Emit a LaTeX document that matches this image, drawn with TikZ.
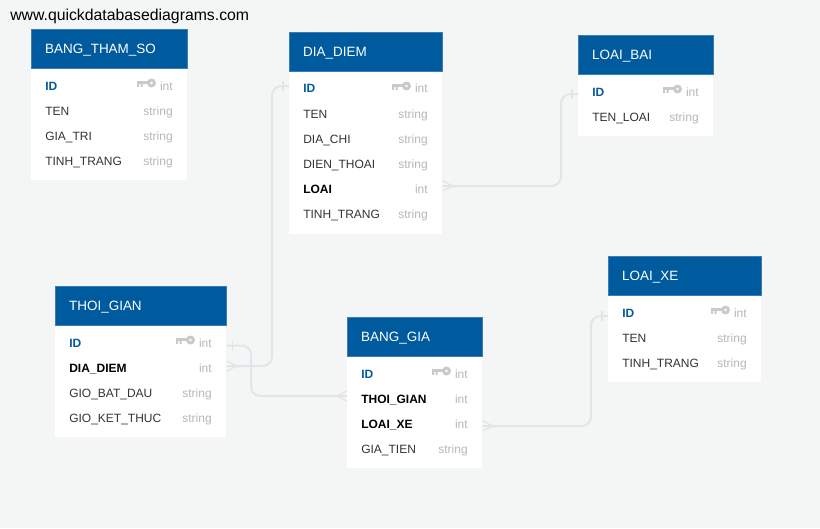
\documentclass[tikz,border=0pt]{standalone}
\usepackage{fontspec}
\setmainfont{Liberation Sans}
\usetikzlibrary{calc}
\definecolor{pagebg}  {RGB}{244, 246, 246}
\definecolor{headclr} {RGB}{0,   90, 158}
\definecolor{headedge}{RGB}{60, 125, 180}
\definecolor{nameclr} {RGB}{51,  51,  51}
\definecolor{typeclr} {RGB}{180, 183, 188}
\definecolor{keyclr}  {RGB}{200, 202, 205}
\definecolor{lineclr} {RGB}{226, 228, 234}
\def\pxu{0.75pt}
\tikzset{
  tblbody/.style={fill=white, inner sep=0pt, anchor=north west, minimum width=#1*\pxu},
  tblhead/.style={fill=headclr, draw=headedge, line width=0.2pt, text=white, anchor=south west,
    font=\fontsize{10.1pt}{12pt}\selectfont, inner xsep=14*\pxu, inner ysep=0pt, align=left,
    text height=7.5pt, text depth=0pt,
    text width=(#1-28)*\pxu, minimum height=39*\pxu},
  colname/.style={anchor=base west, inner sep=0pt, text=nameclr, text height=6.75pt, text depth=2.25pt,
    font=\fontsize{9pt}{11pt}\selectfont},
  colfk/.style={colname, text=black, font=\fontsize{9pt}{11pt}\selectfont\bfseries},
  colpk/.style={colname, text=headclr, font=\fontsize{9pt}{11pt}\selectfont\bfseries},
  coltype/.style={anchor=base east, inner sep=0pt, text=typeclr, font=\fontsize{9pt}{11pt}\selectfont},
  relline/.style={draw=lineclr, line width=1.5pt, rounded corners=7pt},
  relmark/.style={draw=lineclr, line width=1pt},
  pics/keyicon/.style={code={
    \fill[keyclr, even odd rule] (-21.5,-7) circle (4.5) (-21.5,-7) circle (1.7);
    \fill[keyclr] (-36,-8.7) rectangle (-25,-5.6);
    \fill[keyclr] (-36,-7) rectangle (-34,-3.2) (-32.5,-7) rectangle (-30.5,-3.2);
  }},
  pics/crowfoot/.style={code={\draw[relmark] (0,-5) -- (#1,0) -- (0,5);}},
  pics/bartick/.style={code={\draw[relmark] (#1,-5) -- (#1,5);}},
}
\begin{document}
\begin{tikzpicture}[x=0.75pt, y=-0.75pt]
  \fill[pagebg] (0,0) rectangle (820,528);
  \node[anchor=base west, inner sep=0pt, font=\fontsize{11.85pt}{14pt}\selectfont] (siteurl) at (10,21) {www.quickdatabasediagrams.com};

  % BANG_THAM_SO
  \node[tblbody=156, minimum height=112*\pxu] (bangthamsobody) at (31,68) {};
  \node[tblhead=156] (bangthamsohead) at (bangthamsobody.north west) {BANG\_THAM\_SO};
  \node[colpk]   (btsid)      at (45,90)  {ID};
  \node[coltype] (btsidtype)  at (173,90) {int};
  \pic at (173,90) {keyicon};
  \node[colname] (btsten)     at (45,115)  {TEN};
  \node[coltype] (btstentype) at (173,115) {string};
  \node[colname] (btsgiatri)  at (45,140)  {GIA\_TRI};
  \node[coltype] (btsgttype)  at (173,140) {string};
  \node[colname] (btstt)      at (45,165)  {TINH\_TRANG};
  \node[coltype] (btsttype)   at (173,165) {string};

  % DIA_DIEM
  \node[tblbody=153, minimum height=163*\pxu] (diadiembody) at (289,71) {};
  \node[tblhead=153] (diadiemhead) at (diadiembody.north west) {DIA\_DIEM};
  \node[colpk]   (ddid)       at (303,93)  {ID};
  \node[coltype] (ddidtype)   at (428,93)  {int};
  \pic at (428,93) {keyicon};
  \node[colname] (ddten)      at (303,118) {TEN};
  \node[coltype] (ddtentype)  at (428,118) {string};
  \node[colname] (dddiachi)   at (303,143) {DIA\_CHI};
  \node[coltype] (dddctype)   at (428,143) {string};
  \node[colname] (dddienthoai) at (303,168) {DIEN\_THOAI};
  \node[coltype] (dddttype)   at (428,168) {string};
  \node[colfk]   (ddloai)     at (303,193) {LOAI};
  \node[coltype] (ddloaitype) at (428,193) {int};
  \node[colname] (ddtt)       at (303,218) {TINH\_TRANG};
  \node[coltype] (ddttype)    at (428,218) {string};

  % LOAI_BAI
  \node[tblbody=135, minimum height=62*\pxu] (loaibaibody) at (578,74) {};
  \node[tblhead=135] (loaibaihead) at (loaibaibody.north west) {LOAI\_BAI};
  \node[colpk]   (lbid)      at (592,96)  {ID};
  \node[coltype] (lbidtype)  at (699,96)  {int};
  \pic at (699,96) {keyicon};
  \node[colname] (lbten)     at (592,121) {TEN\_LOAI};
  \node[coltype] (lbtentype) at (699,121) {string};

  % THOI_GIAN
  \node[tblbody=171, minimum height=112*\pxu] (thoigianbody) at (55,325) {};
  \node[tblhead=171] (thoigianhead) at (thoigianbody.north west) {THOI\_GIAN};
  \node[colpk]   (tgid)       at (69,347)  {ID};
  \node[coltype] (tgidtype)   at (212,347) {int};
  \pic at (212,347) {keyicon};
  \node[colfk]   (tgdiadiem)  at (69,372)  {DIA\_DIEM};
  \node[coltype] (tgddtype)   at (212,372) {int};
  \node[colname] (tgbatdau)   at (69,397)  {GIO\_BAT\_DAU};
  \node[coltype] (tgbdtype)   at (212,397) {string};
  \node[colname] (tgketthuc)  at (69,422)  {GIO\_KET\_THUC};
  \node[coltype] (tgkttype)   at (212,422) {string};

  % BANG_GIA
  \node[tblbody=135, minimum height=112*\pxu] (banggiabody) at (347,356) {};
  \node[tblhead=135] (banggiahead) at (banggiabody.north west) {BANG\_GIA};
  \node[colpk]   (bgid)       at (361,378) {ID};
  \node[coltype] (bgidtype)   at (468,378) {int};
  \pic at (468,378) {keyicon};
  \node[colfk]   (bgthoigian) at (361,403) {THOI\_GIAN};
  \node[coltype] (bgtgtype)   at (468,403) {int};
  \node[colfk]   (bgloaixe)   at (361,428) {LOAI\_XE};
  \node[coltype] (bglxtype)   at (468,428) {int};
  \node[colname] (bggiatien)  at (361,453) {GIA\_TIEN};
  \node[coltype] (bggttype)   at (468,453) {string};

  % LOAI_XE
  \node[tblbody=153, minimum height=87*\pxu] (loaixebody) at (608,295) {};
  \node[tblhead=153] (loaixehead) at (loaixebody.north west) {LOAI\_XE};
  \node[colpk]   (lxid)       at (622,317) {ID};
  \node[coltype] (lxidtype)   at (747,317) {int};
  \pic at (747,317) {keyicon};
  \node[colname] (lxten)      at (622,342) {TEN};
  \node[coltype] (lxtentype)  at (747,342) {string};
  \node[colname] (lxtt)       at (622,367) {TINH\_TRANG};
  \node[coltype] (lxttype)    at (747,367) {string};

  % link ends on the table edges
  \coordinate (tgfk) at ($(thoigianbody.east |- tgdiadiem)+(0,-3)$);
  \coordinate (tgpk) at ($(thoigianbody.east |- tgid)+(0,1.5)$);
  \coordinate (ddpk) at ($(diadiembody.west |- ddid)+(0,-4)$);
  \coordinate (ddfk) at ($(diadiembody.east |- ddloai)+(0,-4)$);
  \coordinate (lbpk) at ($(loaibaibody.west |- lbid)+(0,1)$);
  \coordinate (bgtg) at ($(banggiabody.west |- bgthoigian)+(0,-4)$);
  \coordinate (bglx) at ($(banggiabody.east |- bgloaixe)+(0,1)$);
  \coordinate (lxpk) at ($(loaixebody.west |- lxid)+(0,2)$);

  % links
  \draw[relline] (tgfk) -- (272,0 |- tgfk) -- (272,0 |- ddpk) -- (ddpk);
  \draw[relline] (tgpk) -- (251,0 |- tgpk) -- (251,0 |- bgtg) -- (bgtg);
  \draw[relline] (ddfk) -- (561,0 |- ddfk) -- (561,0 |- lbpk) -- (lbpk);
  \draw[relline] (bglx) -- (591,0 |- bglx) -- (591,0 |- lxpk) -- (lxpk);

  % link marks
  \pic at (tgfk) {crowfoot=10};
  \pic at (ddfk) {crowfoot=10};
  \pic at (bglx) {crowfoot=10};
  \pic at (bgtg) {crowfoot=-10};
  \pic at (tgpk) {bartick=6};
  \pic at (ddpk) {bartick=-6};
  \pic at (lbpk) {bartick=-6};
  \pic at (lxpk) {bartick=-6};
\end{tikzpicture}
\end{document}
